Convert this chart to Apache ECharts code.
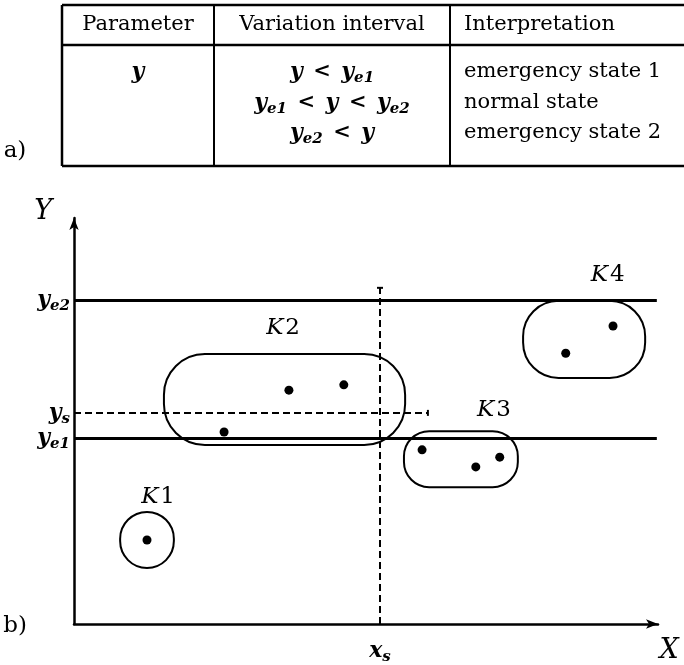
<!DOCTYPE html>
<html>
<head>
<meta charset="utf-8">
<script src="https://cdn.jsdelivr.net/npm/echarts@6/dist/echarts.min.js"></script>
<style>
  html, body { margin: 0; padding: 0; background: #fff; }
  #chart { width: 684px; height: 665px; }
</style>
</head>
<body>
<div id="chart"></div>
<script>
// ---------- a) table of state intervals ----------
const tableHeaders = ['Parameter', 'Variation interval', 'Interpretation'];
const tableParameter = ['{m|y}', '', ''];
const LT = '{o|\u2002<\u2002}';
const tableIntervals = [
  '{m|y}' + LT + '{m|y}{s|e1}',
  '{m|y}{s|e1}' + LT + '{m|y}' + LT + '{m|y}{s|e2}',
  '{m|y}{s|e2}' + LT + '{m|y}'
];
const tableStates = ['emergency state 1', 'normal state', 'emergency state 2'];

// ---------- b) state space ----------
const thresholdLabels = ['{m|y}{s|e1}', '{m|y}{s|e2}'];
const thresholdValues = [45.8, 79.8];
const thresholdEnd = 99.8;
const setpointY = 52.0;      // y_s
const setpointYEnd = 60.6;
const setpointX = 52.4;      // x_s
const setpointXEnd = 82.8;

const clusterNames = ['1', '2', '3', '4'];
const clusterXMin = [7.9, 15.4, 56.5, 76.9];
const clusterXMax = [17.1, 56.7, 76.0, 97.8];
const clusterYMin = [13.8, 44.1, 33.7, 60.6];
const clusterYMax = [27.6, 66.5, 47.5, 79.6];
const clusterLabelX = [14.4, 35.8, 71.9, 91.4];
const clusterLabelY = [31.3, 72.9, 52.7, 86.0];
const clusterRoundness = [0.5, 0.45, 0.45, 0.46];

const pointX = [12.5, 25.7, 36.8, 46.2, 59.6, 68.8, 72.9, 84.2, 92.3];
const pointY = [20.7, 47.3, 57.6, 58.9, 42.9, 38.7, 41.1, 66.7, 73.4];

// ---------- styles ----------
const SERIF = '"DejaVu Serif", "Liberation Serif", serif';
const mathRich = {
  m: { fontFamily: SERIF, fontStyle: 'italic', fontWeight: 'bold', fontSize: 22, lineHeight: 28, verticalAlign: 'middle', color: '#000' },
  s: { fontFamily: SERIF, fontStyle: 'italic', fontWeight: 'bold', fontSize: 15, lineHeight: 16, verticalAlign: 'bottom', color: '#000' },
  o: { fontFamily: SERIF, fontWeight: 'bold', fontSize: 21, lineHeight: 28, verticalAlign: 'middle', color: '#000' }
};
const clusterRich = {
  k: { fontFamily: SERIF, fontStyle: 'italic', fontSize: 23, color: '#000' },
  d: { fontFamily: SERIF, fontSize: 23, color: '#000', padding: [0, 0, 0, 2] }
};

// ---------- table geometry ----------
const tbl = { left: 62, right: 684, top: 5, headBottom: 45, bottom: 166, col1: 214, col2: 450 };
const headerY = 25;
const rowY = [72, 103, 133];
const colCenter1 = (tbl.left + tbl.col1) / 2;
const colCenter2 = (tbl.col1 + tbl.col2) / 2;
const colLeft3 = tbl.col2 + 14;

function hline(x1, x2, y, w) {
  return { type: 'line', shape: { x1, y1: y, x2, y2: y }, style: { stroke: '#000', lineWidth: w } };
}
function vline(x, y1, y2, w) {
  return { type: 'line', shape: { x1: x, y1, x2: x, y2 }, style: { stroke: '#000', lineWidth: w } };
}
function txt(text, x, y, align, extra) {
  return {
    type: 'text',
    style: Object.assign({
      text, x, y, align, verticalAlign: 'middle',
      fontFamily: SERIF, fontSize: 21, fill: '#000', rich: mathRich
    }, extra || {})
  };
}

const tableGraphic = [
  hline(tbl.left, tbl.right, tbl.top, 2.5),
  hline(tbl.left, tbl.right, tbl.headBottom, 2.5),
  hline(tbl.left, tbl.right, tbl.bottom, 2.5),
  vline(tbl.left, tbl.top, tbl.bottom, 2.5),
  vline(tbl.col1, tbl.top, tbl.bottom, 2),
  vline(tbl.col2, tbl.top, tbl.bottom, 2),
  txt(tableHeaders[0], colCenter1, headerY, 'center'),
  txt(tableHeaders[1], colCenter2, headerY, 'center'),
  txt(tableHeaders[2], colLeft3, headerY, 'left'),
  txt('a)', 15, 151, 'center', { fontSize: 23 }),
  txt('b)', 15, 626, 'center', { fontSize: 23 })
];
tableParameter.forEach((t, i) => { if (t) tableGraphic.push(txt(t, colCenter1, rowY[i], 'center')); });
tableIntervals.forEach((t, i) => tableGraphic.push(txt(t, colCenter2, rowY[i], 'center')));
tableStates.forEach((t, i) => tableGraphic.push(txt(t, colLeft3, rowY[i], 'left')));

// ---------- series data ----------
const clusterData = clusterNames.map((n, i) => [
  clusterXMin[i], clusterYMin[i], clusterXMax[i], clusterYMax[i], clusterLabelX[i], clusterLabelY[i]
]);
const pointData = pointX.map((x, i) => [x, pointY[i]]);

function renderCluster(params, api) {
  const i = params.dataIndex;
  const p0 = api.coord([api.value(0), api.value(3)]);
  const p1 = api.coord([api.value(2), api.value(1)]);
  const w = p1[0] - p0[0];
  const h = p1[1] - p0[1];
  const lp = api.coord([api.value(4), api.value(5)]);
  return {
    type: 'group',
    children: [
      {
        type: 'rect',
        shape: { x: p0[0], y: p0[1], width: w, height: h, r: Math.min(w, h) * clusterRoundness[i] },
        style: { fill: 'none', stroke: '#000', lineWidth: 2 }
      },
      {
        type: 'text',
        style: {
          text: '{k|K}{d|' + clusterNames[i] + '}',
          x: lp[0], y: lp[1], align: 'center', verticalAlign: 'middle', rich: clusterRich
        }
      }
    ]
  };
}

const axisCommon = {
  type: 'value', min: 0, max: 100,
  axisTick: { show: false }, axisLabel: { show: false }, splitLine: { show: false },
  axisLine: { show: true, symbol: ['none', 'arrow'], symbolSize: [7, 12], lineStyle: { color: '#000', width: 2.5 } }
};

const lineLabel = { show: true, position: 'start', distance: 4, color: '#000', rich: mathRich };

const option = {
  animation: false,
  backgroundColor: '#fff',
  grid: { left: 74, right: 26, top: 218, bottom: 41, containLabel: false, outerBoundsMode: 'none' },
  xAxis: Object.assign({}, axisCommon, {
    name: 'X', nameLocation: 'end', nameGap: 11,
    nameTextStyle: { fontFamily: SERIF, fontStyle: 'italic', fontSize: 27, color: '#000', align: 'center', verticalAlign: 'top', padding: [13, 0, 0, 0] }
  }),
  yAxis: Object.assign({}, axisCommon, {
    name: 'Y', nameLocation: 'end', nameGap: 6,
    nameTextStyle: { fontFamily: SERIF, fontStyle: 'italic', fontSize: 27, color: '#000', align: 'right', verticalAlign: 'middle', padding: [0, 22, 0, 0] }
  }),
  graphic: tableGraphic,
  series: [
    {
      type: 'custom',
      renderItem: renderCluster,
      data: clusterData,
      clip: false,
      silent: true,
      z: 3
    },
    {
      type: 'scatter',
      data: pointData,
      symbol: 'circle',
      symbolSize: 9,
      itemStyle: { color: '#000', opacity: 1 },
      silent: true,
      z: 4,
      markLine: {
        silent: true,
        symbol: ['none', 'none'],
        label: lineLabel,
        lineStyle: { color: '#000', type: 'solid', width: 3 },
        data: [
          [
            { coord: [0, thresholdValues[0]], label: Object.assign({}, lineLabel, { formatter: thresholdLabels[0] }) },
            { coord: [thresholdEnd, thresholdValues[0]] }
          ],
          [
            { coord: [0, thresholdValues[1]], label: Object.assign({}, lineLabel, { formatter: thresholdLabels[1] }) },
            { coord: [thresholdEnd, thresholdValues[1]] }
          ],
          [
            { coord: [0, setpointY], symbol: 'none', lineStyle: { type: [7, 4], width: 2 },
              label: Object.assign({}, lineLabel, { formatter: '{m|y}{s|s}' }) },
            { coord: [setpointYEnd, setpointY], symbol: 'rect', symbolSize: [6, 2] }
          ],
          [
            { coord: [setpointX, 0], symbol: 'none', lineStyle: { type: [7, 4], width: 2 },
              label: Object.assign({}, lineLabel, { formatter: '{m|x}{s|s}', distance: 13 }) },
            { coord: [setpointX, setpointXEnd], symbol: 'rect', symbolSize: [6, 2] }
          ]
        ]
      }
    }
  ]
};

const chart = echarts.init(document.getElementById('chart'), null, { renderer: 'canvas' });
chart.setOption(option);
</script>
</body>
</html>
